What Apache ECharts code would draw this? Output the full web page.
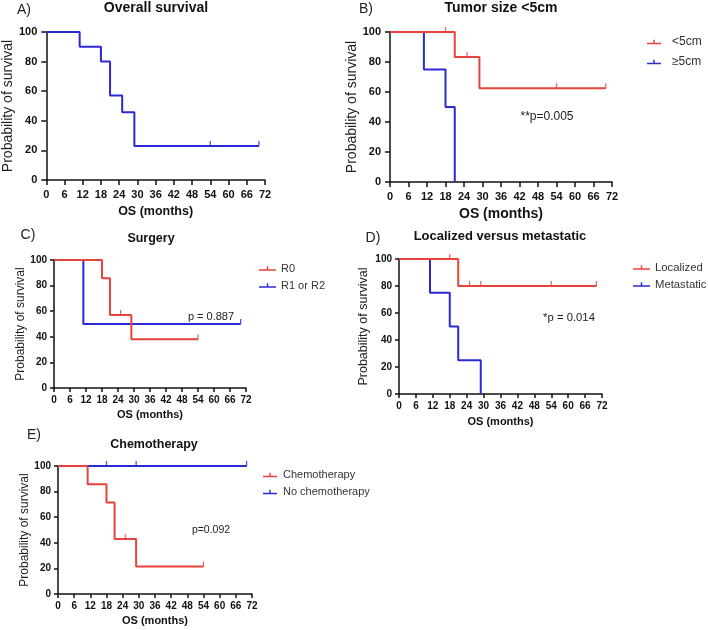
<!DOCTYPE html>
<html><head><meta charset="utf-8">
<script src="https://cdn.jsdelivr.net/npm/echarts@6/dist/echarts.min.js"></script>
<style>html,body{margin:0;padding:0;background:#fff}#c{width:708px;height:630px}</style>
</head><body><div id="c"></div>
<script>
// ---------- data ----------
const xTickValues = [0, 6, 12, 18, 24, 30, 36, 42, 48, 54, 60, 66, 72];
const yTickValues = [0, 20, 40, 60, 80, 100];

// A) Overall survival
const A_times  = [0, 11, 18, 21, 25, 29, 70];
const A_surv   = [100, 90, 80, 57.1, 45.7, 22.9, 22.9];
const A_censor = [54, 70];

// B) Tumor size <5cm
const B_lt5_times  = [0, 21, 29, 70];
const B_lt5_surv   = [100, 83.3, 62.5, 62.5];
const B_lt5_censor = [18, 25, 54, 70];
const B_ge5_times  = [0, 11, 18, 21];
const B_ge5_surv   = [100, 75, 50, 0];
const B_ge5_censor = [];

// C) Surgery
const C_r0_times   = [0, 18, 21, 29, 54];
const C_r0_surv    = [100, 85.7, 57.1, 38.1, 38.1];
const C_r0_censor  = [25, 54];
const C_r12_times  = [0, 11, 70];
const C_r12_surv   = [100, 50, 50];
const C_r12_censor = [70];

// D) Localized versus metastatic
const D_loc_times  = [0, 21, 70];
const D_loc_surv   = [100, 80, 80];
const D_loc_censor = [18, 25, 29, 54, 70];
const D_met_times  = [0, 11, 18, 21, 29];
const D_met_surv   = [100, 75, 50, 25, 0];
const D_met_censor = [];

// E) Chemotherapy
const E_ch_times   = [0, 11, 18, 21, 29, 54];
const E_ch_surv    = [100, 85.7, 71.4, 42.9, 21.4, 21.4];
const E_ch_censor  = [25, 54];
const E_no_times   = [0, 70];
const E_no_surv    = [100, 100];
const E_no_censor  = [18, 29, 70];

const pValues = ['**p=0.005', 'p = 0.887', '*p = 0.014', 'p=0.092'];

// ---------- styling ----------
const FONT = "'Liberation Sans', Arial, Helvetica, sans-serif";
const BLUE = '#2a2ad4';
const RED = '#e5433b';

function survAt(times, surv, t) {
  let v = surv[0];
  for (let i = 0; i < times.length; i++) if (times[i] <= t) v = surv[i];
  return v;
}

const panels = [
  { grid: {left: 46, top: 32, width: 219, height: 148}, tick: 11, tickLen: 5, margin: 9,
    xNameSize: 12.5, xNameGap: 25, yNameSize: 14, yNameGap: 27,
    curves: [{name: 'Overall', color: BLUE, t: A_times, s: A_surv, c: A_censor}] },
  { grid: {left: 390, top: 32, width: 222, height: 150}, tick: 11, tickLen: 5, margin: 9,
    xNameSize: 14, xNameGap: 25, yNameSize: 14, yNameGap: 31,
    curves: [{name: '≥5cm', color: BLUE, t: B_ge5_times, s: B_ge5_surv, c: B_ge5_censor},
             {name: '<5cm', color: RED, t: B_lt5_times, s: B_lt5_surv, c: B_lt5_censor}],
    legend: {left: 647, top: 36, data: ['<5cm', '≥5cm'], size: 12, gap: 8, vis: 14, box: 20} },
  { grid: {left: 54, top: 260, width: 192, height: 128}, tick: 10, tickLen: 4, margin: 7,
    xNameSize: 11, xNameGap: 21, yNameSize: 12, yNameGap: 26,
    curves: [{name: 'R1 or R2', color: BLUE, t: C_r12_times, s: C_r12_surv, c: C_r12_censor},
             {name: 'R0', color: RED, t: C_r0_times, s: C_r0_surv, c: C_r0_censor}],
    legend: {left: 259, top: 263, data: ['R0', 'R1 or R2'], size: 11, gap: 6, vis: 17, box: 17} },
  { grid: {left: 399, top: 259, width: 203, height: 135}, tick: 10, tickLen: 4, margin: 7,
    xNameSize: 11, xNameGap: 22, yNameSize: 12.5, yNameGap: 29,
    curves: [{name: 'Metastatic', color: BLUE, t: D_met_times, s: D_met_surv, c: D_met_censor},
             {name: 'Localized', color: RED, t: D_loc_times, s: D_loc_surv, c: D_loc_censor}],
    legend: {left: 633, top: 262, data: ['Localized', 'Metastatic'], size: 11.3, gap: 6, vis: 17, box: 17} },
  { grid: {left: 58, top: 466, width: 194, height: 128}, tick: 10, tickLen: 4, margin: 7,
    xNameSize: 11, xNameGap: 21, yNameSize: 12, yNameGap: 26,
    curves: [{name: 'No chemotherapy', color: BLUE, t: E_no_times, s: E_no_surv, c: E_no_censor},
             {name: 'Chemotherapy', color: RED, t: E_ch_times, s: E_ch_surv, c: E_ch_censor}],
    legend: {left: 263, top: 469.5, data: ['Chemotherapy', 'No chemotherapy'], size: 11, gap: 6, vis: 14, box: 15} }
];

const texts = [
  {x: 24, y: 10, t: 'A)', size: 14, bold: false},
  {x: 156, y: 8, t: 'Overall survival', size: 14, bold: true},
  {x: 366, y: 9, t: 'B)', size: 14, bold: false},
  {x: 501, y: 8, t: 'Tumor size <5cm', size: 14, bold: true},
  {x: 28, y: 235, t: 'C)', size: 14, bold: false},
  {x: 151, y: 239, t: 'Surgery', size: 12.5, bold: true},
  {x: 373, y: 238, t: 'D)', size: 14, bold: false},
  {x: 500, y: 236, t: 'Localized versus metastatic', size: 13, bold: true},
  {x: 34, y: 435, t: 'E)', size: 14, bold: false},
  {x: 154, y: 445, t: 'Chemotherapy', size: 12.5, bold: true},
  {x: 547, y: 117, t: pValues[0], size: 12, bold: false},
  {x: 211, y: 317, t: pValues[1], size: 11, bold: false},
  {x: 569, y: 318, t: pValues[2], size: 11.3, bold: false},
  {x: 211, y: 530, t: pValues[3], size: 10.5, bold: false}
];

function iconPath(vis, box) {
  const m = vis / 2;
  return 'path://M0,3 L' + vis + ',3 L' + vis + ',4.5 L0,4.5 Z M' + (m - 0.7) + ',0 L' + (m + 0.7) + ',0 L' + (m + 0.7) + ',3 L' + (m - 0.7) + ',3 Z' +
    (box > vis ? ' M' + box + ',0 L' + box + ',4.5' : '');
}

const grid = [], xAxis = [], yAxis = [], series = [], legend = [];
panels.forEach((p, i) => {
  grid.push(Object.assign({containLabel: false}, p.grid));
  const axisCommon = {
    axisLine: {show: true, onZero: false, lineStyle: {color: '#111', width: 1.5}},
    axisTick: {show: true, inside: false, length: p.tickLen, lineStyle: {color: '#111', width: 1.5}},
    splitLine: {show: false},
    nameLocation: 'middle'
  };
  xAxis.push(Object.assign({}, axisCommon, {
    type: 'value', gridIndex: i, min: xTickValues[0], max: xTickValues[xTickValues.length - 1], interval: 6,
    axisLabel: {fontFamily: FONT, fontSize: p.tick, fontWeight: 'bold', color: '#111', margin: p.margin},
    name: 'OS (months)', nameGap: p.xNameGap,
    nameTextStyle: {fontFamily: FONT, fontSize: p.xNameSize, fontWeight: 'bold', color: '#111'}
  }));
  yAxis.push(Object.assign({}, axisCommon, {
    type: 'value', gridIndex: i, min: yTickValues[0], max: yTickValues[yTickValues.length - 1], interval: 20,
    axisLabel: {fontFamily: FONT, fontSize: p.tick, fontWeight: 'bold', color: '#111', margin: p.margin},
    name: 'Probability of survival', nameGap: p.yNameGap, nameRotate: 90,
    nameTextStyle: {fontFamily: FONT, fontSize: p.yNameSize, color: '#222'}
  }));
  p.curves.forEach((c, k) => {
    series.push({
      type: 'line', name: c.name, xAxisIndex: i, yAxisIndex: i, step: 'end',
      data: c.t.map((t, j) => [t, c.s[j]]),
      showSymbol: false, symbol: 'none', clip: false, silent: true,
      color: c.color, lineStyle: {color: c.color, width: 2}, z: 2 + k
    });
    if (c.c.length) {
      series.push({
        type: 'scatter', name: c.name + ' censored', xAxisIndex: i, yAxisIndex: i,
        data: c.c.map(t => [t, survAt(c.t, c.s, t)]),
        symbol: 'rect', symbolSize: [1.3, 5], symbolOffset: [0, -2.5], clip: false, silent: true,
        itemStyle: {color: c.color}, z: 5
      });
    }
  });
  if (p.legend) {
    const L = p.legend;
    legend.push({
      orient: 'vertical', left: L.left, top: L.top, padding: 0, itemGap: L.gap,
      itemWidth: L.box, itemHeight: 4.5, icon: iconPath(L.vis, L.box), selectedMode: false,
      data: L.data, itemStyle: {borderWidth: 0},
      textStyle: {fontFamily: FONT, fontSize: L.size, color: '#333'}
    });
  }
});

const graphic = texts.map(t => ({
  type: 'text', x: t.x, y: t.y, silent: true,
  style: {text: t.t, fill: t.bold ? '#111' : '#222', align: 'center', verticalAlign: 'middle',
          font: (t.bold ? 'bold ' : '') + t.size + 'px ' + FONT}
}));

const chart = echarts.init(document.getElementById('c'), null, {renderer: 'canvas'});
chart.setOption({
  animation: false,
  backgroundColor: '#fff',
  grid, xAxis, yAxis, series, legend, graphic
});
</script></body></html>
